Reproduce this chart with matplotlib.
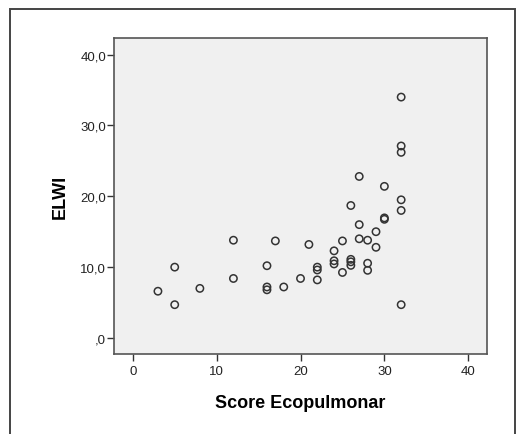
import matplotlib
matplotlib.use("Agg")
import matplotlib.pyplot as plt
from matplotlib.patches import Rectangle

plt.rcParams['font.family'] = ['Liberation Sans', 'DejaVu Sans']

score = [3, 5, 5, 8, 12, 12, 16, 16, 16, 17, 18, 20, 21, 22, 22, 22,
         24, 24, 24, 25, 25, 26, 26, 26, 26, 27, 27, 27, 28, 28, 28,
         29, 29, 30, 30, 30, 32, 32, 32, 32, 32, 32]
elwi = [6.6, 10.0, 4.7, 7.0, 13.8, 8.4, 10.2, 7.2, 6.8, 13.7, 7.2, 8.4, 13.2,
        10.0, 9.6, 8.2, 12.3, 10.9, 10.45, 13.7, 9.25, 18.7, 11.1, 10.75, 10.25,
        22.8, 16.0, 14.0, 13.8, 10.55, 9.55, 15.0, 12.8, 21.4, 16.95, 16.75,
        34.0, 27.1, 26.2, 19.5, 18.0, 4.7]
xticks = [0, 10, 20, 30, 40]
yticks = [0, 10, 20, 30, 40]
ytick_labels = [',0', '10,0', '20,0', '30,0', '40,0']

fig = plt.figure(figsize=(5.18, 4.35), dpi=100)
fig.patch.set_facecolor('white')

# outer frame
fig.add_artist(Rectangle((10/518, -0.2), (515-10)/518, 1 - 10/435 + 0.2,
                         transform=fig.transFigure, fill=False,
                         edgecolor='#444444', linewidth=1.4))

ax = fig.add_axes([0.2207, 0.1839, 0.7189, 0.7258])
ax.set_facecolor('#f0f0f0')
ax.scatter(score, elwi, s=28, facecolors='none', edgecolors='#333333',
           linewidths=1.1, zorder=3)

ax.set_xlim(-2.2, 42.2)
ax.set_ylim(-2.26, 42.3)
ax.set_xticks(xticks)
ax.set_xticklabels([str(t) for t in xticks])
ax.set_yticks(yticks)
ax.set_yticklabels(ytick_labels)

for sp in ax.spines.values():
    sp.set_color('#555555')
    sp.set_linewidth(1.2)

ax.tick_params(axis='both', direction='out', length=5, width=1.0,
               color='#333333', labelsize=9.5, labelcolor='#222222')
ax.tick_params(axis='y', pad=1)
ax.tick_params(axis='x', pad=3)

ax.set_xlabel('Score Ecopulmonar', fontsize=13, fontweight='bold', labelpad=12)
ax.set_ylabel('ELWI', fontsize=13, fontweight='bold', labelpad=8)

fig.savefig('out.png', dpi=100)
